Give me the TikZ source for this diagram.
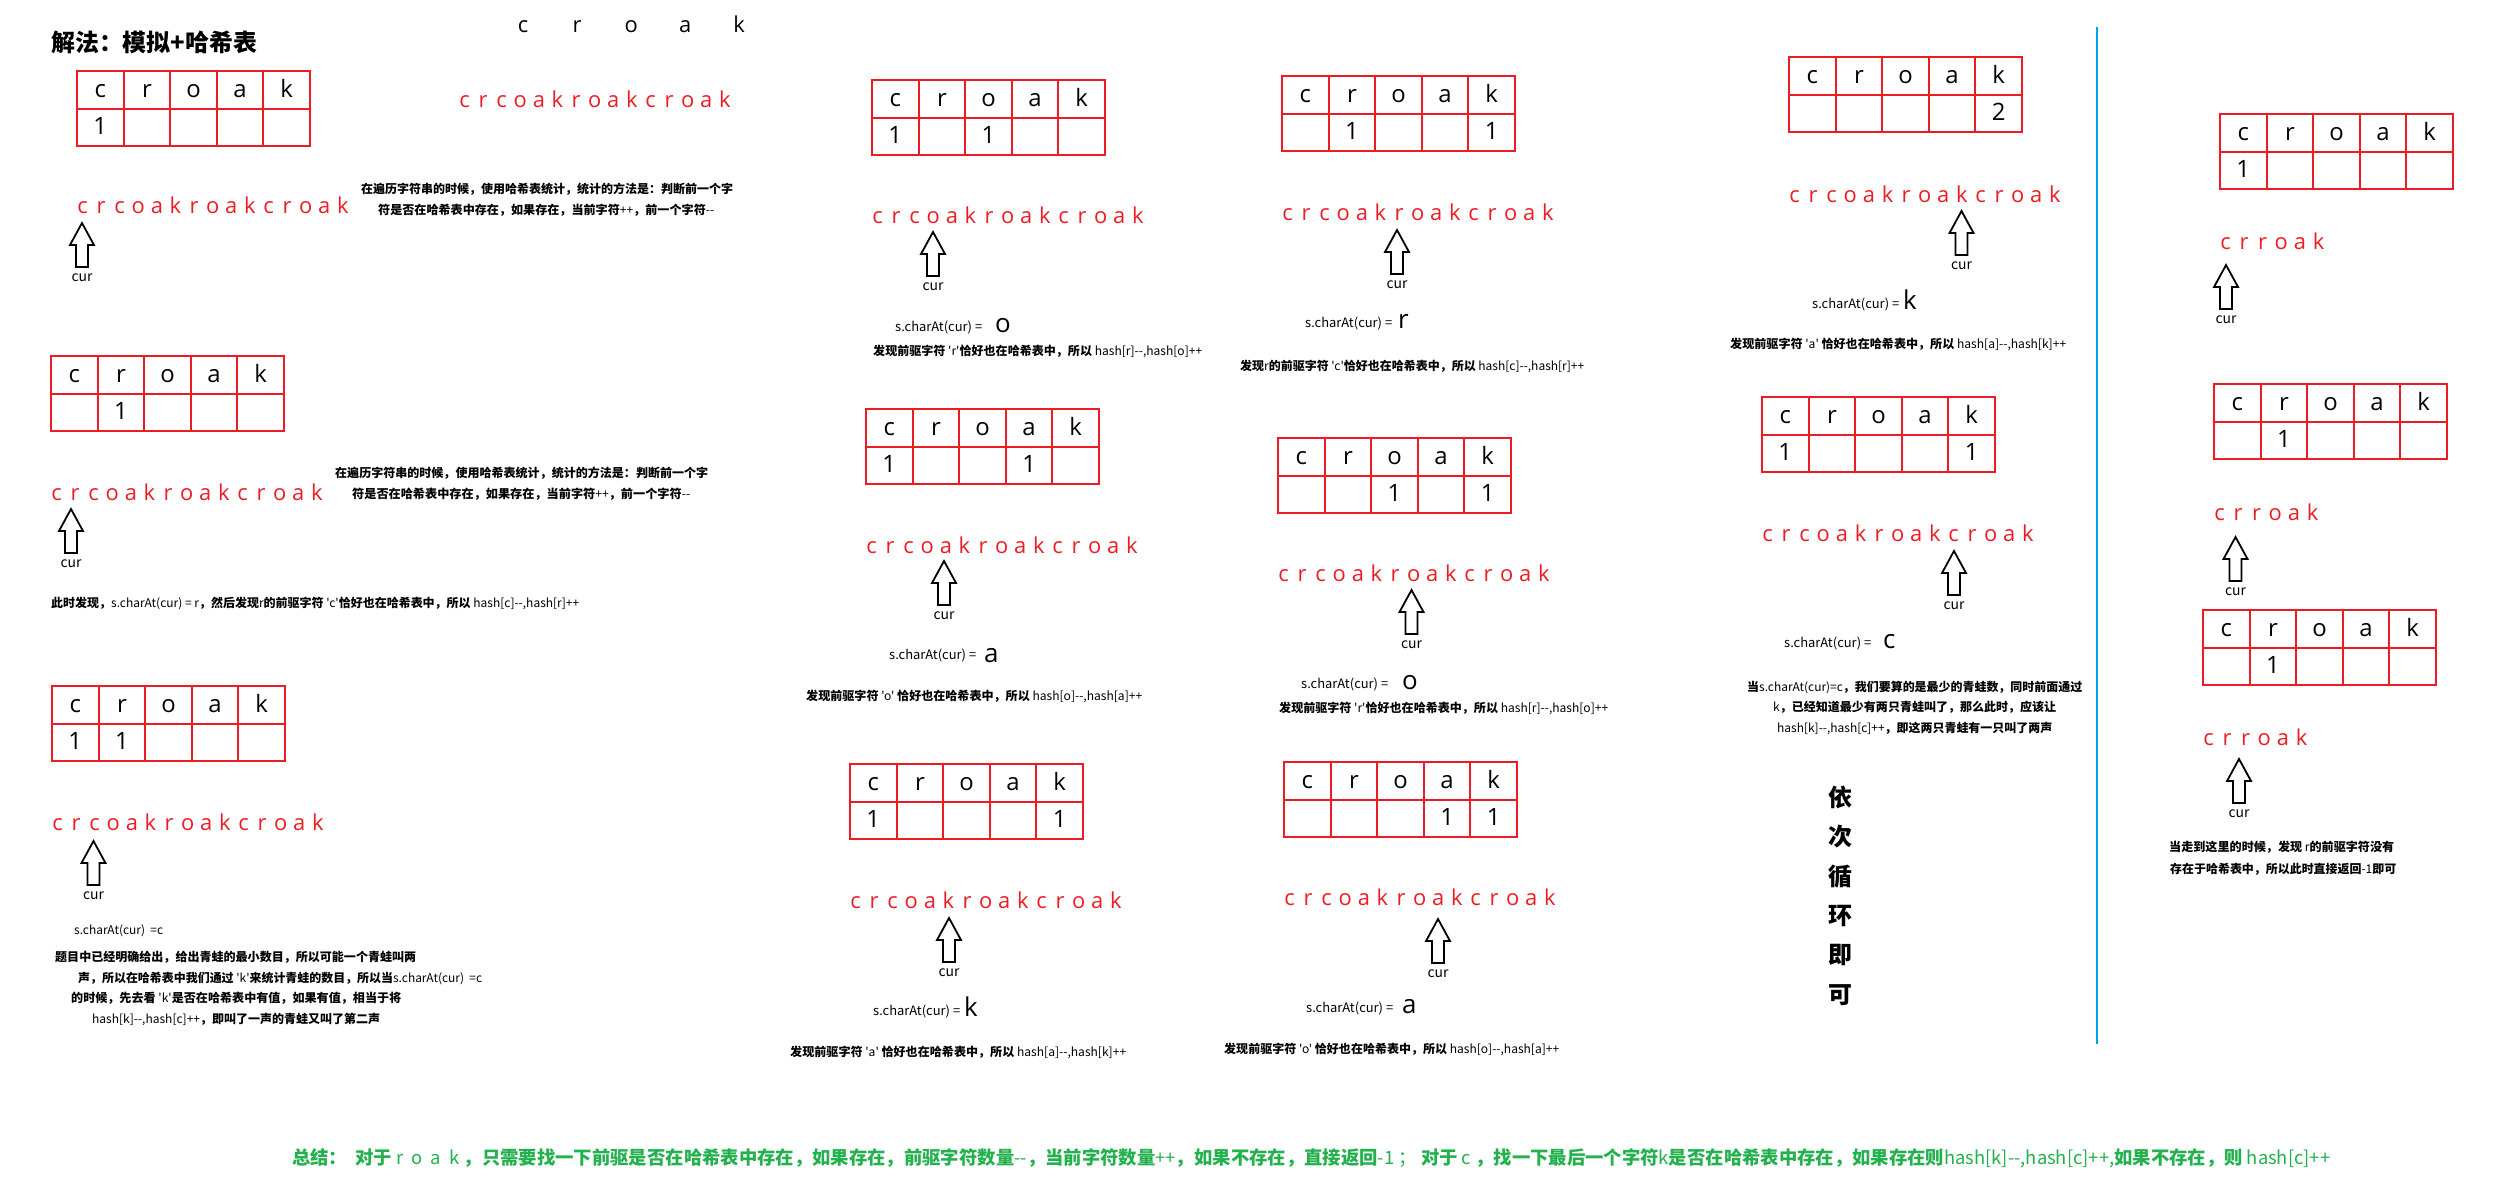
\documentclass[tikz,border=0pt]{standalone}
\usepackage{fontspec}
\usepackage{graphicx}
\newfontfamily\cjk{Noto Sans CJK SC}
\newfontfamily\lat{Open Sans}
\definecolor{tred}{RGB}{237,28,36}
\definecolor{lblue}{RGB}{0,162,232}
\definecolor{sgreen}{RGB}{34,177,76}
\newlength\pitch
\setlength\pitch{18.6bp}
\newcommand\lc[1]{\makebox[\pitch][c]{#1}}
\newcommand\croakS{\lc c\lc r\lc c\lc o\lc a\lc k\lc r\lc o\lc a\lc k\lc c\lc r\lc o\lc a\lc k}
\newcommand\crroakS{\lc c\lc r\lc r\lc o\lc a\lc k}
\newcommand\wc[1]{\makebox[54bp][c]{#1}}
\newcommand\B[1]{{\bfseries #1}}
\tikzset{
  every node/.style={font=\cjk},
  hcell/.style={draw=tred, line width=2bp, minimum width=46.6bp, minimum height=37.5bp,
    inner sep=0pt, text height=15bp, text depth=0bp, font=\lat\fontsize{24}{26}\selectfont},
  redstr/.style={anchor=base west, inner sep=0pt, text=tred, font=\lat\fontsize{22}{24}\selectfont},
  curlbl/.style={inner sep=0pt, font=\cjk\fontsize{14}{16}\selectfont},
  arrowshape/.style={draw=black, fill=white, line width=1.8bp, line join=miter},
  txt/.style={anchor=west, inner sep=0pt},
  chartxt/.style={anchor=base west, inner sep=0pt, font=\cjk\fontsize{13}{15}\selectfont},
  bigch/.style={anchor=base west, inner sep=0pt, font=\lat\fontsize{26}{28}\selectfont},
}
% table: name, x-left, y-top, five values
\newcommand\hashtab[8]{%
  \node[hcell] (#1hc) at (#2+23.3,#3+18.75) {c};
  \node[hcell] (#1hr) at (#2+69.9,#3+18.75) {r};
  \node[hcell] (#1ho) at (#2+116.5,#3+18.75) {o};
  \node[hcell] (#1ha) at (#2+163.1,#3+18.75) {a};
  \node[hcell] (#1hk) at (#2+209.7,#3+18.75) {k};
  \node[hcell] (#1vc) at (#2+23.3,#3+56.25) {#4};
  \node[hcell] (#1vr) at (#2+69.9,#3+56.25) {#5};
  \node[hcell] (#1vo) at (#2+116.5,#3+56.25) {#6};
  \node[hcell] (#1va) at (#2+163.1,#3+56.25) {#7};
  \node[hcell] (#1vk) at (#2+209.7,#3+56.25) {#8};
}
% arrow: name, center x, top y
\newcommand\curarrow[3]{%
  \draw[arrowshape] (#2,#3) -- ++(12,22) -- ++(-6,0) -- ++(0,22) -- ++(-12,0) -- ++(0,-22) -- ++(-6,0) -- cycle;
  \node[curlbl] (#1) at (#2,#3+55) {cur};
}
% text line: name, x, y, width, content
\newcommand\tline[5]{%
  \node[txt] (#1) at (#2,#3) {\resizebox{#4bp}{!}{\cjk\fontsize{12.5}{14}\selectfont #5}};
}
\begin{document}
\begin{tikzpicture}[x=1bp,y=-1bp]
\useasboundingbox (0,0) rectangle (2501,1186);
\fill[white] (0,0) rectangle (2501,1186);

% title and top letters
\node[anchor=west, inner sep=0pt, font=\cjk\bfseries\fontsize{24}{26}\selectfont] (title) at (51,42) {解法：模拟+哈希表};
\node[anchor=base west, inner sep=0pt, font=\lat\fontsize{22}{24}\selectfont] (topcroak) at (496,32) {\wc c\wc r\wc o\wc a\wc k};
\node[redstr] (s0) at (455,107) {\croakS};

% column 1
\hashtab{ta}{77}{71}{1}{}{}{}{}
\node[redstr] (sa) at (73,213) {\croakS};
\curarrow{ca}{82}{223}
\tline{la1}{361}{189}{372}{\B{在遍历字符串的时候，使用哈希表统计，统计的方法是：判断前一个字}}
\tline{la2}{378}{210}{336}{\B{符是否在哈希表中存在，如果存在，当前字符}++\B{，前一个字符}-{}-}

\hashtab{tb}{51}{356}{}{1}{}{}{}
\node[redstr] (sb) at (47,500) {\croakS};
\curarrow{cb}{71}{509}
\tline{lb1}{335}{473}{373}{\B{在遍历字符串的时候，使用哈希表统计，统计的方法是：判断前一个字}}
\tline{lb2}{352}{494}{338}{\B{符是否在哈希表中存在，如果存在，当前字符}++\B{，前一个字符}-{}-}
\tline{lb3}{51}{603}{528}{\B{此时发现，}s.charAt(cur) = r\B{，然后发现}r\B{的前驱字符} 'c'\B{恰好也在哈希表中，所以} hash[c]-{}-,hash[r]++}

\hashtab{tc}{52}{686}{1}{1}{}{}{}
\node[redstr] (sc) at (48,830) {\croakS};
\curarrow{cc}{93.5}{841}
\tline{lc0}{74}{931}{89}{s.charAt(cur)\ \ =c}
\tline{lc1}{55}{957}{361}{\B{题目中已经明确给出，给出青蛙的最小数目，所以可能一个青蛙叫两}}
\tline{lc2}{78}{978}{404}{\B{声，所以在哈希表中我们通过} 'k'\B{来统计青蛙的数目，所以当}s.charAt(cur)\ \ =c}
\tline{lc3}{71}{998}{330}{\B{的时候，先去看} 'k'\B{是否在哈希表中有值，如果有值，相当于将}}
\tline{lc4}{92}{1019}{288}{hash[k]-{}-,hash[c]++\B{，即叫了一声的青蛙又叫了第二声}}

% column 2
\hashtab{td}{872}{80}{1}{}{1}{}{}
\node[redstr] (sd) at (868,223) {\croakS};
\curarrow{cd}{933}{232}
\node[chartxt] (qd) at (895,331) {s.charAt(cur) =};
\node[bigch] (qdc) at (995,332) {o};
\tline{ld}{873}{351}{329}{\B{发现前驱字符} 'r'\B{恰好也在哈希表中，所以} hash[r]-{}-,hash[o]++}

\hashtab{tf}{866}{409}{1}{}{}{1}{}
\node[redstr] (sf) at (862,553) {\croakS};
\curarrow{cf}{944}{561}
\node[chartxt] (qf) at (889,659) {s.charAt(cur) =};
\node[bigch] (qfc) at (984,662) {a};
\tline{lf}{806}{696}{336}{\B{发现前驱字符} 'o' \B{恰好也在哈希表中，所以} hash[o]-{}-,hash[a]++}

\hashtab{th}{850}{764}{1}{}{}{}{1}
\node[redstr] (sh) at (846,908) {\croakS};
\curarrow{ch}{949}{918}
\node[chartxt] (qh) at (873,1015) {s.charAt(cur) =};
\node[bigch] (qhc) at (964,1016) {k};
\tline{lh}{790}{1052}{336}{\B{发现前驱字符} 'a' \B{恰好也在哈希表中，所以} hash[a]-{}-,hash[k]++}

% column 3
\hashtab{te}{1282}{76}{}{1}{}{}{1}
\node[redstr] (se) at (1278,220) {\croakS};
\curarrow{ce}{1397}{230}
\node[chartxt] (qe) at (1305,327) {s.charAt(cur) =};
\node[bigch] (qec) at (1398,328) {r};
\tline{le}{1240}{366}{344}{\B{发现}r\B{的前驱字符} 'c'\B{恰好也在哈希表中，所以} hash[c]-{}-,hash[r]++}

\hashtab{tg}{1278}{438}{}{}{1}{}{1}
\node[redstr] (sg) at (1274,581) {\croakS};
\curarrow{cg}{1411.5}{590}
\node[chartxt] (qg) at (1301,688) {s.charAt(cur) =};
\node[bigch] (qgc) at (1402,689) {o};
\tline{lg}{1279}{708}{329}{\B{发现前驱字符} 'r'\B{恰好也在哈希表中，所以} hash[r]-{}-,hash[o]++}

\hashtab{ti}{1284}{762}{}{}{}{1}{1}
\node[redstr] (si) at (1280,905) {\croakS};
\curarrow{ci}{1438}{919}
\node[chartxt] (qi) at (1306,1012) {s.charAt(cur) =};
\node[bigch] (qic) at (1402,1013) {a};
\tline{li}{1224}{1049}{335}{\B{发现前驱字符} 'o' \B{恰好也在哈希表中，所以} hash[o]-{}-,hash[a]++}

% column 4
\hashtab{tj}{1789}{57}{}{}{}{}{2}
\node[redstr] (sj) at (1785,202) {\croakS};
\curarrow{cj}{1961.5}{211}
\node[chartxt] (qj) at (1812,308) {s.charAt(cur) =};
\node[bigch] (qjc) at (1903,309) {k};
\tline{lj}{1730}{344}{336}{\B{发现前驱字符} 'a' \B{恰好也在哈希表中，所以} hash[a]-{}-,hash[k]++}

\hashtab{tl}{1762}{397}{1}{}{}{}{1}
\node[redstr] (sl) at (1758,541) {\croakS};
\curarrow{cl}{1954}{551}
\node[chartxt] (ql) at (1784,647) {s.charAt(cur) =};
\node[bigch] (qlc) at (1883,648) {c};
\tline{ll1}{1747}{687}{335}{\B{当}s.charAt(cur)=c\B{，我们要算的是最少的青蛙数，同时前面通过}}
\tline{ll2}{1773}{707}{283}{k\B{，已经知道最少有两只青蛙叫了，那么此时，应该让}}
\tline{ll3}{1777}{728}{275}{hash[k]-{}-,hash[c]++\B{，即这两只青蛙有一只叫了两声}}

\node[align=center, inner sep=0pt, font=\cjk\bfseries\fontsize{24}{39.5}\selectfont] (loop) at (1840,895.5) {依\\次\\循\\环\\即\\可};

% divider
\coordinate (dtop) at (2097,27);
\coordinate (dbot) at (2097,1044);
\draw[lblue, line width=2bp] (dtop) -- (dbot);

% right column
\hashtab{tk}{2220}{114}{1}{}{}{}{}
\node[redstr] (sk) at (2216,249) {\crroakS};
\curarrow{ck}{2226}{265}

\hashtab{tm}{2214}{384}{}{1}{}{}{}
\node[redstr] (sm) at (2210,520) {\crroakS};
\curarrow{cm}{2235.5}{537}

\hashtab{tn}{2203}{610}{}{1}{}{}{}
\node[redstr] (sn) at (2199,745) {\crroakS};
\curarrow{cn}{2239}{759}
\tline{ln1}{2169}{847}{225}{\B{当走到这里的时候，发现} r\B{的前驱字符没有}}
\tline{ln2}{2170}{869}{226}{\B{存在于哈希表中，所以此时直接返回}-1\B{即可}}

% summary
\node[txt, text=sgreen] (summary) at (292,1158) {\resizebox{2038bp}{!}{\cjk\fontsize{12.5}{14}\selectfont \B{总结：}\ \ \B{对于} r\ \ o\ \ a\ \ k \B{，只需要找一下前驱是否在哈希表中存在，如果存在，前驱字符数量}-{}-\B{，当前字符数量}++\B{，如果不存在，直接返回}-1 ；\ \B{对于} c \B{，找一下最后一个字符}k\B{是否在哈希表中存在，如果存在则}hash[k]-{}-,hash[c]++,\B{如果不存在，则} hash[c]++}};
\end{tikzpicture}
\end{document}
